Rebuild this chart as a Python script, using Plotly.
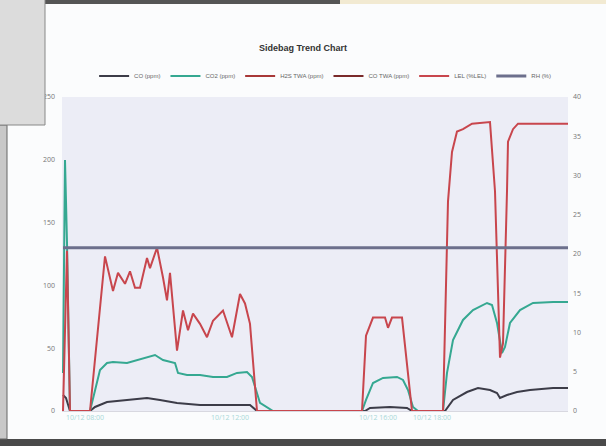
import plotly.graph_objects as go

# ---- data ----
co_t = [1, 4, 8, 28, 33, 38, 45, 65, 85, 98, 115, 138, 165, 188, 195, 303, 308, 328, 345, 350,
        383, 391, 405, 416, 428, 435, 438, 445, 455, 468, 491, 506]
co_v = [12.7, 10.4, 0, 0, 3.2, 4.8, 7.2, 8.8, 10.4, 8.8, 6.4, 4.8, 4.8, 4.8, 0, 0, 2.4, 3.2, 2.4, 0,
        0, 8.8, 15.1, 18.3, 16.7, 14.3, 10.4, 12.7, 15.1, 16.7, 18.3, 18.3]

co2_t = [1, 3, 5, 8, 28, 33, 38, 45, 51, 65, 75, 85, 93, 101, 108, 113, 116, 125, 138, 151, 165, 175,
         185, 190, 198, 211, 300, 304, 311, 321, 335, 341, 346, 351, 356, 381, 385, 391, 401, 411,
         425, 430, 435, 440, 443, 448, 458, 471, 491, 506]
co2_v = [30.3, 199.8, 133.8, 0, 0, 16.7, 32.6, 38.2, 39.0, 38.2, 40.6, 43.0, 44.6, 40.6, 39.0, 38.2,
         30.3, 28.7, 28.7, 27.1, 27.1, 30.3, 31.1, 27.1, 6.4, 0, 0, 8.8, 22.3, 26.3, 27.1, 24.7, 16.7,
         3.2, 0, 0, 30.3, 56.5, 72.5, 80.4, 86.0, 84.4, 70.1, 46.2, 51.0, 70.1, 80.4, 86.0, 86.8, 86.8]

lel_t = [1, 5, 8, 28, 43, 51, 56, 63, 68, 73, 78, 85, 88, 95, 101, 105, 108, 115, 121, 126, 131, 138,
         145, 151, 161, 170, 178, 183, 188, 195, 300, 304, 311, 323, 326, 330, 340, 350, 381, 386,
         390, 395, 401, 410, 428, 433, 438, 441, 445, 446, 451, 456, 506]
lel_v = [0, 20.4, 0, 0, 19.7, 15.3, 17.6, 16.2, 17.8, 15.7, 15.7, 19.5, 18.2, 20.8, 17.0, 14.1, 17.6,
         7.7, 12.8, 10.3, 12.4, 11.1, 9.4, 11.5, 12.8, 9.4, 14.9, 13.7, 11.1, 0, 0, 9.6, 11.9, 11.9,
         10.6, 11.9, 11.9, 0, 0, 26.7, 33.0, 35.6, 35.9, 36.6, 36.8, 28.0, 6.8, 8.6, 28.0, 34.3, 35.9,
         36.6, 36.6]

rh_t = [1, 506]
rh_v = [20.8, 20.8]

x_tick_vals = [23, 168, 316, 370]
x_tick_text = ["10/12 08:00", "10/12 12:00", "10/12 16:00", "10/12 18:00"]

names = ["CO (ppm)", "CO2 (ppm)", "H2S TWA (ppm)", "CO TWA (ppm)", "LEL (%LEL)", "RH (%)"]
colors = ["#3c3c48", "#35a891", "#a83838", "#7a2a2a", "#c8464d", "#6c6f8c"]

fig = go.Figure()
fig.add_trace(go.Scatter(x=co_t, y=co_v, name=names[0], mode="lines",
                         line=dict(color=colors[0], width=2)))
fig.add_trace(go.Scatter(x=co2_t, y=co2_v, name=names[1], mode="lines",
                         line=dict(color=colors[1], width=2)))
fig.add_trace(go.Scatter(x=[0], y=[None], name=names[2], mode="lines",
                         line=dict(color=colors[2], width=2)))
fig.add_trace(go.Scatter(x=[0], y=[None], name=names[3], mode="lines",
                         line=dict(color=colors[3], width=2)))
fig.add_trace(go.Scatter(x=lel_t, y=lel_v, name=names[4], mode="lines", yaxis="y2",
                         line=dict(color=colors[4], width=2)))
fig.add_trace(go.Scatter(x=rh_t, y=rh_v, name=names[5], mode="lines", yaxis="y2",
                         line=dict(color=colors[5], width=3)))

fig.update_layout(
    width=606, height=446,
    margin=dict(l=62, r=38, t=97, b=35),
    paper_bgcolor="#fbfcfd",
    plot_bgcolor="#ecedf6",
    title=dict(text="<b>Sidebag Trend Chart</b>", x=0.5, xanchor="center",
               y=1 - 48 / 446, yanchor="middle",
               font=dict(family="Liberation Sans, Arial", size=9, color="#333")),
    legend=dict(orientation="h", x=0.52, xanchor="center", y=1.067, yanchor="middle",
                font=dict(family="Liberation Sans, Arial", size=6, color="#666"),
                itemwidth=30, tracegroupgap=0, bgcolor="rgba(0,0,0,0)"),
    xaxis=dict(range=[0, 506], showgrid=False, zeroline=False,
               tickvals=x_tick_vals, ticktext=x_tick_text,
               tickfont=dict(size=7, color="#a8d8d8"),
               showline=True, linecolor="#d8d8e0", linewidth=1),
    yaxis=dict(range=[0, 250], dtick=50, showgrid=False, zeroline=False,
               tickfont=dict(size=7, color="#777"), ticklabelstandoff=6),
    yaxis2=dict(range=[0, 40], dtick=5, overlaying="y", side="right", showgrid=False,
                zeroline=False, tickfont=dict(size=7, color="#777"), ticklabelstandoff=4),
    showlegend=True,
)

# screenshot surroundings (window chrome around the chart)
W, L, T, B = 506, 62, 97, 35
H = 314
def px(x):
    return (x - L) / W
def py(y):
    return (446 - B - y) / H

shapes = [
    dict(type="rect", xref="paper", yref="paper", x0=px(0), x1=px(606), y0=py(4), y1=py(-2),
         fillcolor="#f2ead2", line=dict(width=0)),
    dict(type="rect", xref="paper", yref="paper", x0=px(0), x1=px(340), y0=py(4), y1=py(-2),
         fillcolor="#555", line=dict(width=0)),
    dict(type="rect", xref="paper", yref="paper", x0=px(0), x1=px(606), y0=py(448), y1=py(439),
         fillcolor="#4a4a4a", line=dict(width=0)),
    dict(type="rect", xref="paper", yref="paper", x0=px(-2), x1=px(7), y0=py(439), y1=py(125),
         fillcolor="#c8c8c8", line=dict(color="#666", width=1)),
    dict(type="rect", xref="paper", yref="paper", x0=px(-2), x1=px(45), y0=py(125), y1=py(-2),
         fillcolor="#dcdcdc", line=dict(color="#888", width=1)),
]
fig.update_layout(shapes=shapes)

fig.write_html("out.html", post_script="document.body.style.margin='0';",
               config={"displayModeBar": False})
